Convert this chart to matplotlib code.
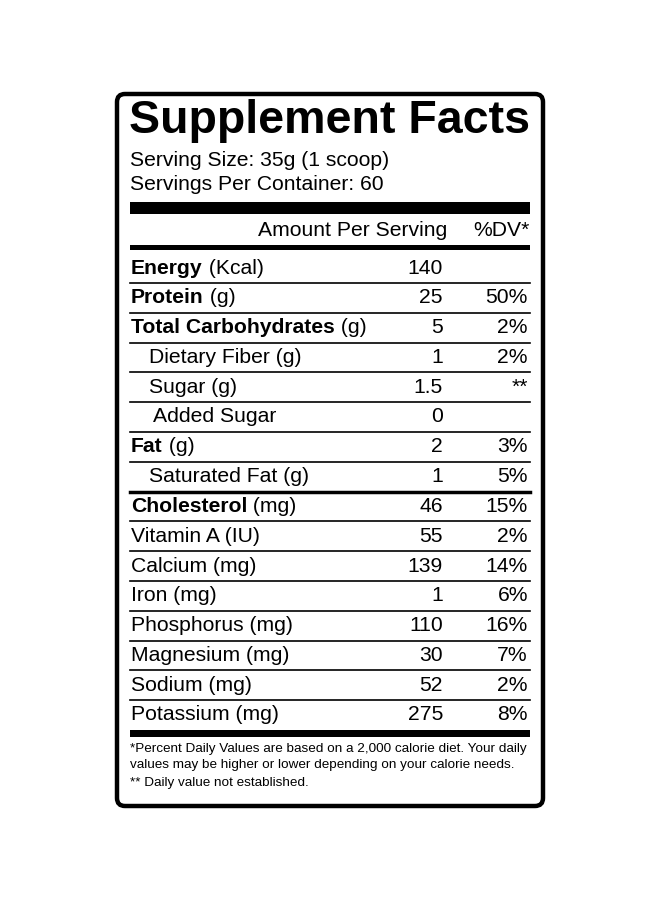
import matplotlib.pyplot as plt
from matplotlib.patches import FancyBboxPatch

plt.rcParams['font.family'] = ['Liberation Sans', 'DejaVu Sans']

names = ["Energy", "Protein", "Total Carbohydrates", "Dietary Fiber (g)", "Sugar (g)",
         "Added Sugar", "Fat", "Saturated Fat (g)", "Cholesterol", "Vitamin A (IU)",
         "Calcium (mg)", "Iron (mg)", "Phosphorus (mg)", "Magnesium (mg)",
         "Sodium (mg)", "Potassium (mg)"]
units = [" (Kcal)", " (g)", " (g)", "", "", "", " (g)", "", " (mg)", "", "", "", "", "", "", ""]
bold = [True, True, True, False, False, False, True, False, True, False, False, False,
        False, False, False, False]
indent = [0, 0, 0, 18, 18, 22, 0, 18, 0, 0, 0, 0, 0, 0, 0, 0]
amounts = ["140", "25", "5", "1", "1.5", "0", "2", "1", "46", "55", "139", "1", "110",
           "30", "52", "275"]
dv = ["", "50%", "2%", "2%", "**", "", "3%", "5%", "15%", "2%", "14%", "6%", "16%",
      "7%", "2%", "8%"]

fig = plt.figure(figsize=(6.6, 9), dpi=100)
ax = fig.add_axes([0, 0, 1, 1])
ax.set_xlim(0, 660)
ax.set_ylim(900, 0)
ax.axis('off')

ax.add_patch(FancyBboxPatch((117, 94), 426, 712, boxstyle="round,pad=0,rounding_size=8",
                            fill=False, lw=3.2, ec='black'))

fs = 15.2
ax.text(129, 121, "Supplement Facts", fontsize=33.5, fontweight='bold', va='center')
ax.text(130, 160, "Serving Size: 35g (1 scoop)", fontsize=fs, va='center')
ax.text(130, 185, "Servings Per Container: 60", fontsize=fs, va='center')
ax.fill_between([130, 530], 202, 214, color='black', lw=0)
ax.text(447, 230, "Amount Per Serving", fontsize=fs, va='center', ha='right')
ax.text(530, 230, "%DV*", fontsize=fs, va='center', ha='right')
ax.fill_between([130, 530], 245, 250, color='black', lw=0)

y0, step = 268, 29.8
for i, n in enumerate(names):
    y = y0 + i * step
    x = 131 + indent[i]
    t = ax.text(x, y, n, fontsize=fs, va='center', fontweight='bold' if bold[i] else 'normal')
    if units[i]:
        ax.annotate(units[i], xycoords=t, xy=(1, 0.5), va='center', fontsize=fs)
    ax.text(443, y, amounts[i], fontsize=fs, va='center', ha='right')
    ax.text(528, y, dv[i], fontsize=fs, va='center', ha='right')
    if i < len(names) - 1:
        lw = 2.5 if i == 7 else 1.2
        ax.plot([130, 530], [y + step / 2] * 2, color='black', lw=lw)
ax.fill_between([130, 530], 730, 737, color='black', lw=0)

ax.text(130, 749, "*Percent Daily Values are based on a 2,000 calorie diet. Your daily",
        fontsize=9.7, va='center')
ax.text(130, 765, "values may be higher or lower depending on your calorie needs.",
        fontsize=9.7, va='center')
ax.text(130, 783, "** Daily value not established.", fontsize=9.7, va='center')

fig.savefig("out.png", dpi=100)
